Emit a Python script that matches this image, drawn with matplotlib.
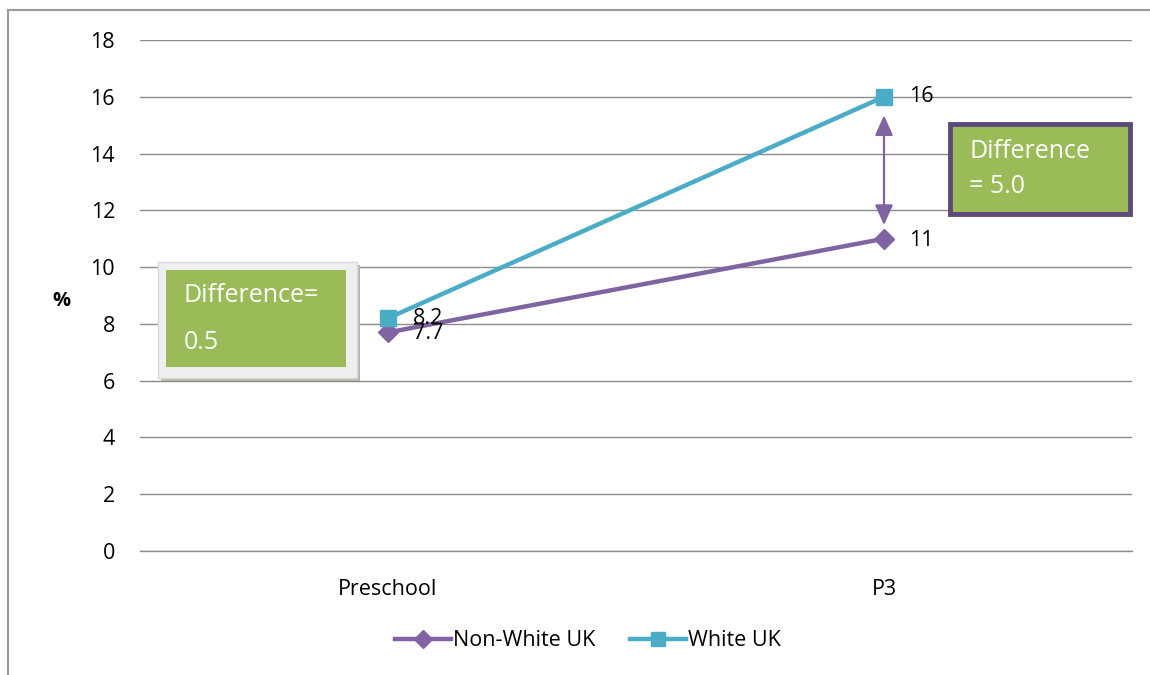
import matplotlib
matplotlib.use("Agg")
import matplotlib.pyplot as plt
from matplotlib.patches import Rectangle, FancyArrowPatch
from matplotlib.lines import Line2D

categories = ["Preschool", "P3"]
non_white_uk = [7.7, 11]
white_uk = [8.2, 16]
y_ticks = [0, 2, 4, 6, 8, 10, 12, 14, 16, 18]

purple = "#8064A2"
teal = "#4BACC6"
green = "#9BBB59"
dark_purple = "#5F497A"

plt.rcParams["font.family"] = ["Open Sans", "DejaVu Sans"]
fs = 15.5
box_fs = 18

fig = plt.figure(figsize=(11.5, 6.75), dpi=100)
ax = fig.add_axes([140 / 1150, 1 - 551 / 675, (1132 - 140) / 1150, (551 - 40) / 675])

x = list(range(len(categories)))
ax.set_xlim(-0.5, len(categories) - 0.5)
ax.set_ylim(0, 18)
ax.set_yticks(y_ticks)
ax.set_xticks(x)
ax.set_xticklabels(categories)
ax.tick_params(axis="both", length=0, labelsize=fs, colors="black")
ax.tick_params(axis="y", pad=18)
ax.tick_params(axis="x", pad=20)
ax.grid(axis="y", color="#8c8c8c", linewidth=1.0)
ax.set_axisbelow(True)
for side in ["left", "right", "top"]:
    ax.spines[side].set_visible(False)
ax.spines["bottom"].set_color("#8c8c8c")
ax.spines["bottom"].set_linewidth(1.0)

ax.set_ylabel("%", rotation=0, fontsize=fs - 1, fontweight="bold")
ax.yaxis.set_label_coords(-0.079, 0.47)

ax.plot(x, non_white_uk, color=purple, lw=3.2, marker="D", ms=10,
        label="Non-White UK", zorder=3)
ax.plot(x, white_uk, color=teal, lw=3.2, marker="s", ms=12,
        label="White UK", zorder=4)

# value labels
for xi, v in zip(x, white_uk):
    ax.annotate(f"{v:g}", (xi, v), xytext=(18, 0), textcoords="offset points",
                va="center", ha="left", fontsize=fs, zorder=5)
for xi, v in zip(x, non_white_uk):
    ax.annotate(f"{v:g}", (xi, v), xytext=(18, -1), textcoords="offset points",
                va="center", ha="left", fontsize=fs, zorder=5)

# double-headed arrow showing the gap at P3
arrow = FancyArrowPatch((1, white_uk[1] - 0.65), (1, non_white_uk[1] + 0.48),
                        arrowstyle="<|-|>,head_length=0.85,head_width=0.38",
                        mutation_scale=14.4, color=purple, lw=1.6, zorder=5,
                        shrinkA=0, shrinkB=0)
ax.add_patch(arrow)


def fx(px):
    return px / 1150


def fy(py):
    return 1 - py / 675


# left annotation box
shadow = Rectangle((fx(161), fy(381)), fx(199), 116 / 675, transform=fig.transFigure,
                   facecolor="#b8b8a8", edgecolor="none", zorder=6)
fig.add_artist(shadow)
outer = Rectangle((fx(158), fy(378)), fx(199), 116 / 675, transform=fig.transFigure,
                  facecolor="#efefef", edgecolor="#d9d9d9", lw=1, zorder=7)
fig.add_artist(outer)
inner = Rectangle((fx(166), fy(367)), fx(180), 97 / 675, transform=fig.transFigure,
                  facecolor=green, edgecolor="none", zorder=8)
fig.add_artist(inner)
fig.text(fx(184), fy(296), "Difference=", color="white", fontsize=box_fs,
         va="center", ha="left", zorder=9)
fig.text(fx(184), fy(342), "0.5", color="white", fontsize=box_fs,
         va="center", ha="left", zorder=9)

# right annotation box
box2 = Rectangle((fx(950), fy(214)), fx(180), 90 / 675, transform=fig.transFigure,
                 facecolor=green, edgecolor=dark_purple, lw=3.5, zorder=7)
fig.add_artist(box2)
fig.text(fx(969), fy(152), "Difference", color="white", fontsize=box_fs,
         va="center", ha="left", zorder=9)
fig.text(fx(969), fy(187), "= 5.0", color="white", fontsize=box_fs,
         va="center", ha="left", zorder=9)

# legend
handles = [
    Line2D([0], [0], color=purple, lw=3.2, marker="D", ms=9),
    Line2D([0], [0], color=teal, lw=3.2, marker="s", ms=10),
]
fig.legend(handles, ["Non-White UK", "White UK"], loc="center",
           bbox_to_anchor=(fx(588), fy(641)), ncol=2, frameon=False,
           fontsize=fs, handlelength=2.6, handletextpad=0.1, columnspacing=1.6)

# chart frame lines
fig.add_artist(Line2D([fx(8), 1], [fy(10), fy(10)], transform=fig.transFigure,
                      color="#9a9a9a", lw=1.5))
fig.add_artist(Line2D([fx(8), fx(8)], [fy(10), 0], transform=fig.transFigure,
                      color="#9a9a9a", lw=1.5))

fig.savefig("out.png", dpi=100)
